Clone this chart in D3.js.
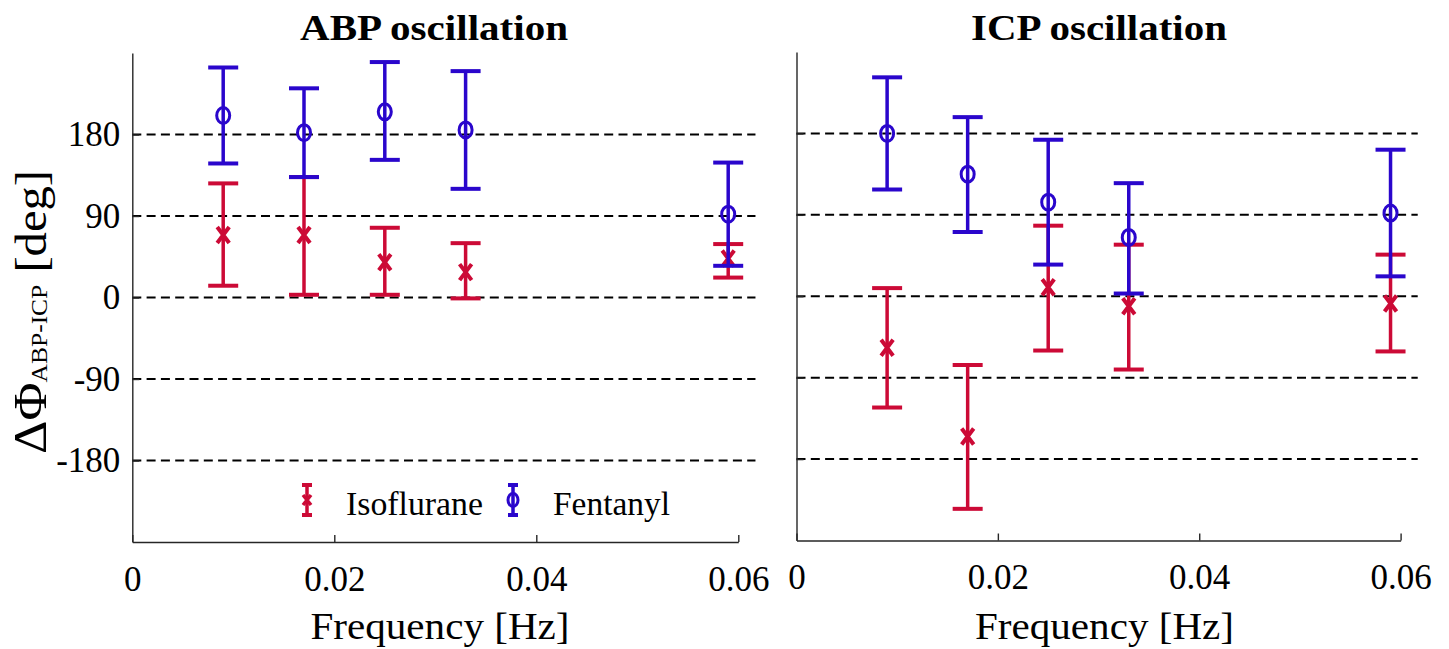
<!DOCTYPE html>
<html>
<head>
<meta charset="utf-8">
<script src="https://cdn.jsdelivr.net/npm/d3@7"></script>
<style>
  html, body { margin: 0; padding: 0; background: #fff; }
  svg { display: block; font-family: "Liberation Serif", "Times New Roman", serif; }
</style>
</head>
<body>
<svg id="chart" width="1449" height="649"></svg>
<script>
// ---------- data ----------
const freqs = [0.009, 0.017, 0.025, 0.033, 0.059];
const xTicks = [0, 0.02, 0.04, 0.06];
const xTickLabels = ["0", "0.02", "0.04", "0.06"];
const yTicks = [-180, -90, 0, 90, 180];
const yTickLabels = ["-180", "-90", "0", "90", "180"];
const seriesNames = ["Isoflurane", "Fentanyl"];
const panelTitles = ["ABP oscillation", "ICP oscillation"];

// ABP oscillation panel
const abpIsoMean  = [69, 69, 39, 28, 43];
const abpIsoUpper = [126, 133, 77, 60, 59];
const abpIsoLower = [13, 3, 3, -1, 22];
const abpFenMean  = [201, 182, 205, 185, 92];
const abpFenUpper = [254, 231, 260, 250, 149];
const abpFenLower = [148, 133, 152, 120, 35];

// ICP oscillation panel
const icpIsoMean  = [-57, -155, 10, -11, -8];
const icpIsoUpper = [9, -76, 78, 57, 46];
const icpIsoLower = [-123, -235, -60, -81, -61];
const icpFenMean  = [180, 135, 104, 65, 92];
const icpFenUpper = [242, 198, 173, 125, 162];
const icpFenLower = [118, 71, 35, 3, 22];

// ---------- style ----------
const RED = "#cc0a36";
const BLUE = "#2a06cc";
const AXIS = "#262626";
const FONT = "Liberation Serif";

const svg = d3.select("#chart");

function drawPanel(cfg, iso, fen, showYLabels) {
  const x = d3.scaleLinear().domain([0, 0.06]).range([cfg.x0, cfg.x1]);
  const y = d3.scaleLinear().domain([-270, 270]).range([cfg.yb, cfg.yt]);
  const g = svg.append("g");

  // dashed reference lines
  g.append("g").selectAll("line").data(yTicks).join("line")
    .attr("x1", x(0)).attr("x2", x(0.0617))
    .attr("y1", d => y(d)).attr("y2", d => y(d))
    .attr("stroke", "#000").attr("stroke-width", 2)
    .attr("stroke-dasharray", "9,5.3");

  // x axis
  const xa = g.append("g").attr("transform", `translate(0,${cfg.yb})`)
    .call(d3.axisBottom(x).tickValues(xTicks)
      .tickFormat((d, i) => xTickLabels[i])
      .tickSize(-7).tickSizeOuter(0).tickPadding(24));
  xa.attr("font-family", FONT);
  xa.select(".domain").attr("stroke", AXIS).attr("stroke-width", 1.4);
  xa.selectAll(".tick line").attr("stroke", AXIS).attr("stroke-width", 1.4);
  xa.selectAll(".tick text").attr("font-family", FONT)
    .attr("font-size", 35).attr("fill", "#000");

  // y axis
  const ya = g.append("g").attr("transform", `translate(${cfg.x0},0)`)
    .call(d3.axisLeft(y).tickValues(yTicks)
      .tickFormat((d, i) => showYLabels ? yTickLabels[i] : "")
      .tickSize(-7).tickSizeOuter(0).tickPadding(12));
  ya.attr("font-family", FONT);
  ya.select(".domain").attr("stroke", AXIS).attr("stroke-width", 1.4);
  ya.selectAll(".tick line").attr("stroke", AXIS).attr("stroke-width", 1.4);
  ya.selectAll(".tick text").attr("font-family", FONT)
    .attr("font-size", 35).attr("fill", "#000");

  // series
  function errorBars(s, color, marker) {
    const sg = g.append("g");
    const pts = freqs.map((f, i) => ({ f, m: s.mean[i], lo: s.lower[i], hi: s.upper[i] }));
    sg.selectAll(".stem").data(pts).join("line")
      .attr("x1", d => x(d.f)).attr("x2", d => x(d.f))
      .attr("y1", d => y(d.lo)).attr("y2", d => y(d.hi))
      .attr("stroke", color).attr("stroke-width", 3.5);
    ["lo", "hi"].forEach(k => {
      sg.selectAll(".cap" + k).data(pts).join("line")
        .attr("x1", d => x(d.f) - 15).attr("x2", d => x(d.f) + 15)
        .attr("y1", d => y(d[k])).attr("y2", d => y(d[k]))
        .attr("stroke", color).attr("stroke-width", 4);
    });
    if (marker === "o") {
      sg.selectAll("ellipse").data(pts).join("ellipse")
        .attr("cx", d => x(d.f)).attr("cy", d => y(d.m))
        .attr("rx", 6.5).attr("ry", 8)
        .attr("fill", "none").attr("stroke", color).attr("stroke-width", 3);
    } else {
      sg.selectAll(".mk").data(pts).join("path")
        .attr("d", d => {
          const cx = x(d.f), cy = y(d.m);
          return `M${cx-6},${cy-8}L${cx+6},${cy+8}M${cx-6},${cy+8}L${cx+6},${cy-8}`;
        })
        .attr("fill", "none").attr("stroke", color).attr("stroke-width", 4);
    }
  }
  errorBars(iso, RED, "x");
  errorBars(fen, BLUE, "o");

  // title
  svg.append("text").attr("x", cfg.titleX).attr("y", 40)
    .attr("text-anchor", "middle").attr("font-weight", "bold")
    .attr("font-family", FONT)
    .attr("font-size", 36).attr("textLength", cfg.titleW)
    .attr("lengthAdjust", "spacingAndGlyphs")
    .text(cfg.title);

  // x label
  svg.append("text").attr("x", cfg.xlabX).attr("y", 639)
    .attr("text-anchor", "middle").attr("font-size", 38)
    .attr("font-family", FONT)
    .attr("textLength", 259).attr("lengthAdjust", "spacingAndGlyphs")
    .text("Frequency [Hz]");

  return { x, y, g };
}

drawPanel(
  { x0: 132.3, x1: 738.3, yb: 542, yt: 53, title: panelTitles[0], titleX: 434, titleW: 268, xlabX: 440 },
  { mean: abpIsoMean, upper: abpIsoUpper, lower: abpIsoLower },
  { mean: abpFenMean, upper: abpFenUpper, lower: abpFenLower }, true);

drawPanel(
  { x0: 796.5, x1: 1400.6, yb: 540.5, yt: 52, title: panelTitles[1], titleX: 1099, titleW: 256, xlabX: 1104.5 },
  { mean: icpIsoMean, upper: icpIsoUpper, lower: icpIsoLower },
  { mean: icpFenMean, upper: icpFenUpper, lower: icpFenLower }, false);

// y label
const yl = svg.append("text")
  .attr("transform", "translate(46,312) scale(1.05,1) rotate(-90)")
  .attr("text-anchor", "middle").attr("font-size", 42)
  .attr("font-family", FONT)
  .attr("textLength", 284).attr("lengthAdjust", "spacingAndGlyphs");
yl.append("tspan").attr("font-size", 45).text("ΔΦ");
yl.append("tspan").attr("font-size", 22).attr("dy", 1).text("ABP-ICP");
yl.append("tspan").attr("dy", -1).text(" [deg]");

// legend (left panel)
const lg = svg.append("g");
const legendItems = [
  { name: seriesNames[0], color: RED, marker: "x", ix: 307, tx: 346, w: 137 },
  { name: seriesNames[1], color: BLUE, marker: "o", ix: 513, tx: 553, w: 117 }
];
legendItems.forEach(it => {
  const top = 485, bot = 515, mid = 500;
  lg.append("line").attr("x1", it.ix).attr("x2", it.ix).attr("y1", top).attr("y2", bot)
    .attr("stroke", it.color).attr("stroke-width", 3.5);
  [top, bot].forEach(yy => lg.append("line")
    .attr("x1", it.ix - 5).attr("x2", it.ix + 5).attr("y1", yy).attr("y2", yy)
    .attr("stroke", it.color).attr("stroke-width", 4));
  if (it.marker === "o") {
    lg.append("ellipse").attr("cx", it.ix).attr("cy", mid).attr("rx", 5).attr("ry", 6.5)
      .attr("fill", "none").attr("stroke", it.color).attr("stroke-width", 3);
  } else {
    lg.append("path")
      .attr("d", `M${it.ix-4},${mid-5}L${it.ix+4},${mid+5}M${it.ix-4},${mid+5}L${it.ix+4},${mid-5}`)
      .attr("fill", "none").attr("stroke", it.color).attr("stroke-width", 3.5);
  }
  lg.append("text").attr("x", it.tx).attr("y", 515).attr("font-size", 34)
    .attr("font-family", FONT)
    .attr("textLength", it.w).attr("lengthAdjust", "spacingAndGlyphs")
    .text(it.name);
});
</script>
</body>
</html>
